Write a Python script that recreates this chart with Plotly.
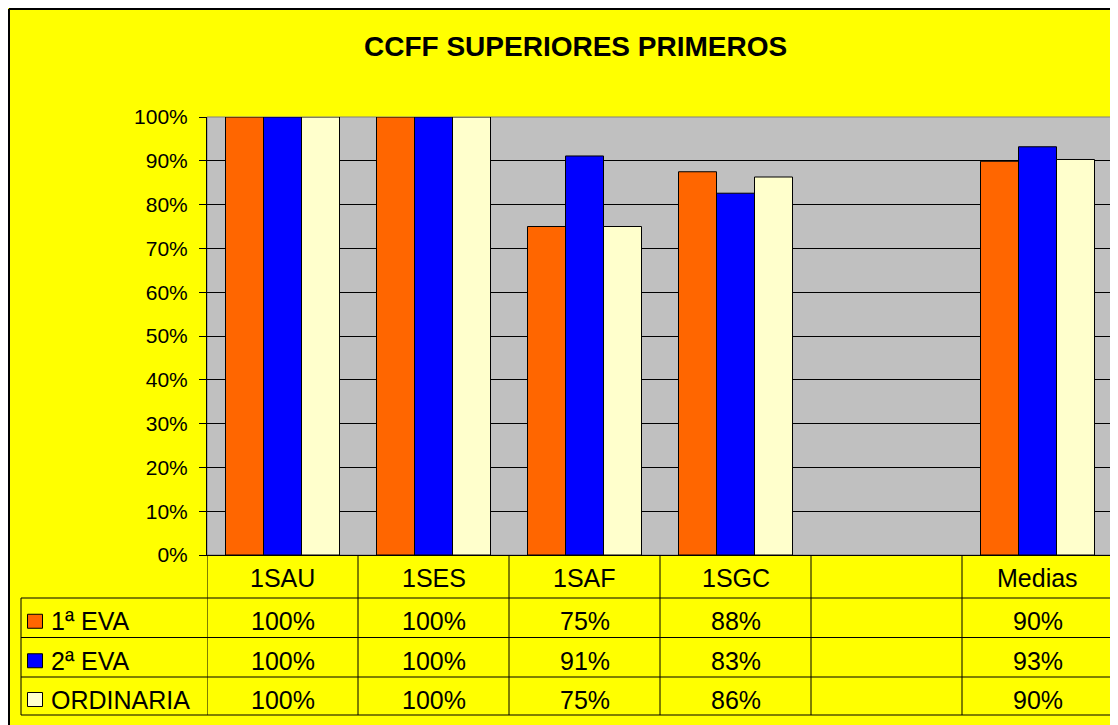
import plotly.graph_objects as go

categories = ["1SAU", "1SES", "1SAF", "1SGC", "", "Medias"]
series_names = ["1ª EVA", "2ª EVA", "ORDINARIA"]
eva1 = [1.00, 1.00, 0.75, 0.875, None, 0.899]
eva2 = [1.00, 1.00, 0.911, 0.826, None, 0.932]
ordinaria = [1.00, 1.00, 0.75, 0.863, None, 0.903]
colors = ["#FF6600", "#0000FF", "#FFFFCC"]
series_values = [eva1, eva2, ordinaria]
y_ticks = [i / 10 for i in range(11)]

OFF = 8  # page body margin
W, H = 1118 - OFF, 725 - OFF
L, R = 207 - OFF, 5
T = 117 - OFF
B = H - (555 - OFF)
PW, PH = W - L - R, H - T - B
FONT = "Arial, Liberation Sans, sans-serif"


def px(x):
    """screen x pixel -> paper"""
    return (x - OFF - L) / PW


def py(y):
    """screen y pixel -> paper"""
    return (555 - y) / PH


xs = list(range(len(categories)))
fig = go.Figure()
for name, vals, col in zip(series_names, series_values, colors):
    fig.add_trace(go.Bar(
        x=xs, y=vals, name=name,
        marker=dict(color=col, line=dict(color="black", width=1)),
        showlegend=False,
    ))

shapes = []
annotations = []

# chart frame (left and top edges)
shapes.append(dict(type="line", xref="paper", yref="paper",
                   x0=px(OFF + 1), x1=px(OFF + 1), y0=py(OFF + 1), y1=py(740),
                   line=dict(color="black", width=2)))
shapes.append(dict(type="line", xref="paper", yref="paper",
                   x0=px(OFF + 1), x1=px(1130), y0=py(OFF + 1), y1=py(OFF + 1),
                   line=dict(color="black", width=2)))
# plot area border (gray)
shapes.append(dict(type="rect", xref="paper", yref="paper",
                   x0=0, x1=1, y0=0, y1=1,
                   line=dict(color="#808080", width=1), layer="below"))

# data table geometry (screen pixels)
header_top, header_bot = 555, 598
row_bounds = [598, 637.5, 677, 715]
legend_left = 21
line = dict(color="black", width=1)

for i in range(len(categories) + 1):
    shapes.append(dict(type="line", xref="x", yref="paper",
                       x0=i - 0.5, x1=i - 0.5, y0=py(header_top), y1=py(row_bounds[-1]),
                       line=line))
shapes.append(dict(type="line", xref="paper", yref="paper",
                   x0=px(legend_left), x1=px(legend_left),
                   y0=py(row_bounds[0]), y1=py(row_bounds[-1]), line=line))
for yb in row_bounds:
    shapes.append(dict(type="line", xref="paper", yref="paper",
                       x0=px(legend_left), x1=1, y0=py(yb), y1=py(yb), line=line))

TFS = 25
for i, c in enumerate(categories):
    if c:
        annotations.append(dict(xref="x", yref="paper", x=i,
                                y=py((header_top + header_bot) / 2 + 1),
                                text=c, showarrow=False, yanchor="middle",
                                font=dict(family=FONT, size=TFS, color="black")))

for r, (name, vals, col) in enumerate(zip(series_names, series_values, colors)):
    yc = (row_bounds[r] + row_bounds[r + 1]) / 2 + 3.5
    shapes.append(dict(type="rect", xref="paper", yref="paper",
                       x0=px(27.5), x1=px(42.5), y0=py(yc + 7), y1=py(yc - 7),
                       fillcolor=col, line=dict(color="black", width=1)))
    annotations.append(dict(xref="paper", yref="paper", x=px(49), y=py(yc),
                            text=name, showarrow=False, xanchor="left", yanchor="middle",
                            font=dict(family=FONT, size=TFS, color="black")))
    for i, v in enumerate(vals):
        if v is not None:
            annotations.append(dict(xref="x", yref="paper", x=i, y=py(yc),
                                    text=f"{int(v * 100 + 0.5)}%", showarrow=False,
                                    yanchor="middle",
                                    font=dict(family=FONT, size=TFS, color="black")))

annotations.append(dict(xref="paper", yref="paper", x=px(575), y=py(47),
                        text="<b>CCFF SUPERIORES PRIMEROS</b>", showarrow=False,
                        yanchor="middle",
                        font=dict(family=FONT, size=28, color="black")))

fig.update_layout(
    width=W, height=H,
    margin=dict(l=L, r=R, t=T, b=B, autoexpand=False),
    paper_bgcolor="#FFFF00",
    plot_bgcolor="#C0C0C0",
    barmode="group", bargap=0.245, bargroupgap=0,
    shapes=shapes, annotations=annotations,
    font=dict(family=FONT, color="black"),
    xaxis=dict(range=[-0.5, len(categories) - 0.5], showticklabels=False,
               showgrid=False, zeroline=False, showline=True,
               linecolor="black", linewidth=1, ticks=""),
    yaxis=dict(range=[0, 1], tickvals=y_ticks, tickformat=".0%",
               showgrid=True, gridcolor="black", gridwidth=1,
               zeroline=False, showline=True, linecolor="black", linewidth=1,
               ticks="outside", ticklen=7, tickcolor="black",
               ticklabelstandoff=7,
               tickfont=dict(family=FONT, size=21, color="black")),
)

fig.write_html("out.html")
